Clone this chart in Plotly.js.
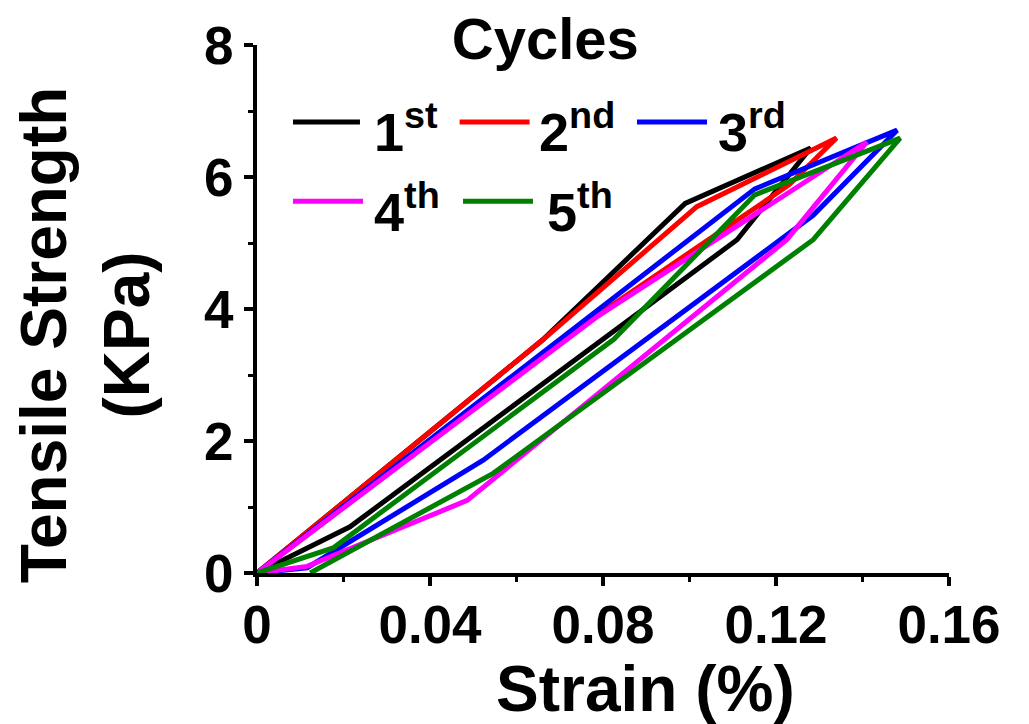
<!DOCTYPE html>
<html>
<head>
<meta charset="utf-8">
<script src="https://cdn.plot.ly/plotly-3.0.1.min.js"></script>
<style>html,body{margin:0;padding:0;background:#fff;}#chart{width:1029px;height:724px;}</style>
</head>
<body>
<div id="chart"></div>
<script>
// Cycle names (legend labels)
const cycleNames = ['1<sup>st</sup>', '2<sup>nd</sup>', '3<sup>rd</sup>', '4<sup>th</sup>', '5<sup>th</sup>'];
const cycleColors = ['#000000', '#ff0000', '#0000ff', '#ff00ff', '#008000'];

// Strain (%) and tensile strength (KPa) for each loading/unloading cycle
const strain1 = [0, 0.066, 0.099, 0.128, 0.111, 0.0215, 0];
const stress1 = [0, 3.53, 5.60, 6.44, 5.05, 0.70, 0];

const strain2 = [0, 0.066, 0.1017, 0.134, 0.123, 0.079, 0];
const stress2 = [0, 3.53, 5.55, 6.59, 5.88, 3.92, 0];

const strain3 = [0, 0.1151, 0.148, 0.1286, 0.0523, 0.0116, 0];
const stress3 = [0, 5.82, 6.71, 5.42, 1.71, 0.08, 0];

const strain4 = [0, 0.079, 0.141, 0.1225, 0.0486, 0.0116, 0];
const stress4 = [0, 3.90, 6.53, 5.05, 1.10, 0.10, 0];

const strain5 = [0, 0.0176, 0.0825, 0.1151, 0.1487, 0.1286, 0.0546, 0.0123];
const stress5 = [0, 0.38, 3.54, 5.73, 6.59, 5.05, 1.51, 0];

const xTickVals = [0, 0.04, 0.08, 0.12, 0.16];
const xTickText = ['0', '0.04', '0.08', '0.12', '0.16'];
const yTickVals = [0, 2, 4, 6, 8];
const yTickText = ['0', '2', '4', '6', '8'];

const xTitle = 'Strain (%)';
const yTitle = 'Tensile Strength<br>(KPa)';
const keyTitle = 'Cycles';

const strains = [strain1, strain2, strain3, strain4, strain5];
const stresses = [stress1, stress2, stress3, stress4, stress5];

const FONT = 'Liberation Sans, Arial, sans-serif';

const traces = strains.map((xs, i) => ({
  type: 'scatter',
  mode: 'lines',
  x: xs,
  y: stresses[i],
  name: cycleNames[i],
  line: {color: cycleColors[i], width: 5},
  cliponaxis: false,
  showlegend: false
}));

// Legend (key) placement, in paper fractions: swatch start/end, text start, row centre
const keySwatchX0 = [0.0520, 0.2928, 0.5491, 0.0520, 0.2977];
const keySwatchX1 = [0.1488, 0.3939, 0.6503, 0.1532, 0.3988];
const keyTextX    = [0.1661, 0.4046, 0.6633, 0.1661, 0.4162];
const keyRowY     = [0.854, 0.854, 0.854, 0.704, 0.704];

const shapes = cycleColors.map((c, i) => ({
  type: 'line', xref: 'paper', yref: 'paper',
  x0: keySwatchX0[i], x1: keySwatchX1[i], y0: keyRowY[i], y1: keyRowY[i],
  line: {color: c, width: 5}
}));

const annotations = cycleNames.map((n, i) => ({
  text: n, xref: 'paper', yref: 'paper', x: keyTextX[i], y: keyRowY[i] - 0.012,
  xanchor: 'left', yanchor: 'middle', showarrow: false,
  font: {family: FONT, size: 54, color: '#000', weight: 'bold'}
}));

// Axis titles (placed as in the reference, slightly off-centre)
annotations.push({
  text: xTitle, xref: 'paper', yref: 'paper', x: 0.562, y: -0.2197,
  xanchor: 'center', yanchor: 'middle', showarrow: false,
  font: {family: FONT, size: 64, color: '#000', weight: 'bold'}
});
annotations.push({
  text: yTitle, xref: 'paper', yref: 'paper', x: -0.2486, y: 0.452,
  xanchor: 'center', yanchor: 'middle', showarrow: false, textangle: -90,
  font: {family: FONT, size: 64, color: '#000', weight: 'bold'}
});

const layout = {
  width: 1029, height: 724,
  margin: {l: 257, r: 80, t: 45, b: 151, pad: 0},
  paper_bgcolor: '#fff', plot_bgcolor: '#fff',
  font: {family: FONT, color: '#000', weight: 'bold'},
  showlegend: false,
  title: {
    text: keyTitle, x: 0.530, xref: 'container', xanchor: 'center',
    y: 0.947, yref: 'container', yanchor: 'middle',
    font: {family: FONT, size: 58, color: '#000', weight: 'bold'}
  },
  xaxis: {
    range: [0, 0.16], tickvals: xTickVals, ticktext: xTickText,
    showgrid: false, zeroline: false, showline: true, linecolor: '#000', linewidth: 4,
    ticks: 'outside', ticklen: 9, tickwidth: 4, tickcolor: '#000',
    minor: {dtick: 0.02, tick0: 0, ticks: 'outside', ticklen: 5, tickwidth: 3, tickcolor: '#000'},
    tickfont: {family: FONT, size: 53, color: '#000', weight: 'bold'},
    ticklabelstandoff: -7,
    layer: 'below traces'
  },
  yaxis: {
    range: [0, 8], tickvals: yTickVals, ticktext: yTickText,
    showgrid: false, zeroline: false, showline: true, linecolor: '#000', linewidth: 4,
    ticks: 'outside', ticklen: 9, tickwidth: 4, tickcolor: '#000',
    minor: {dtick: 1, tick0: 0, ticks: 'outside', ticklen: 5, tickwidth: 3, tickcolor: '#000'},
    tickfont: {family: FONT, size: 53, color: '#000', weight: 'bold'},
    layer: 'below traces'
  },
  shapes: shapes,
  annotations: annotations
};

Plotly.newPlot('chart', traces, layout, {displayModeBar: false, staticPlot: true});
</script>
</body>
</html>
